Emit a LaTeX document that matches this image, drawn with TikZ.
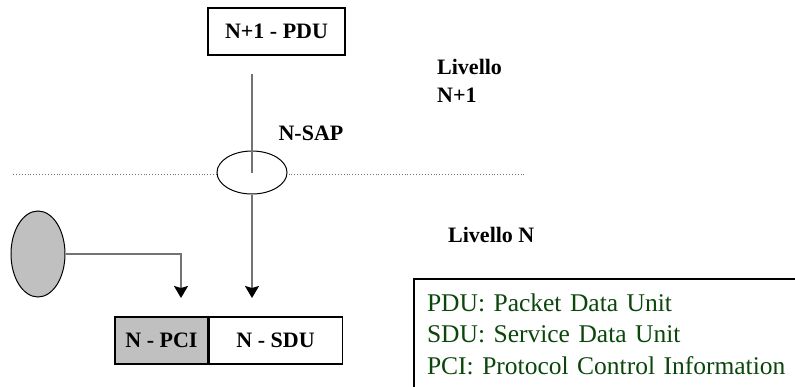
\documentclass[tikz,border=0pt]{standalone}
\usepackage{fontspec}
\setmainfont{Liberation Serif}
\usetikzlibrary{arrows.meta,positioning,shapes.geometric}
\definecolor{legendgreen}{RGB}{11,70,11}
\definecolor{wiregray}{RGB}{115,115,115}
\definecolor{pcigray}{RGB}{192,192,192}
\tikzset{
  unitbox/.style={draw=black,line width=1.1pt,minimum height=47pt,inner sep=0pt,
    font=\bfseries\fontsize{22}{26}\selectfont},
  layerlabel/.style={inner sep=0pt,font=\bfseries\fontsize{22}{28}\selectfont},
  wire/.style={draw=wiregray,line width=1.6pt},
  flow/.style={wire,-{Stealth[length=12pt,width=14pt,inset=2pt,color=black]}}
}

\begin{document}
\begin{tikzpicture}[x=1pt,y=-1pt]
\useasboundingbox (0,0) rectangle (795,386);
% layer boundary
\draw[wiregray,line width=0.9pt,dotted] (13,174) -- (526,174);
%
\node (pdu) [unitbox,minimum width=137pt] at (276.5,31.5) {N+1 - PDU};
\node (sap) [ellipse,draw=black,line width=1pt,fill=white,minimum width=70pt,minimum height=43pt,inner sep=0pt] at (252,172.5) {};
\node (src) [ellipse,draw=black,line width=1pt,fill=pcigray,minimum width=54pt,minimum height=86pt,inner sep=0pt] at (38,254) {};
\node (pci) [unitbox,fill=pcigray,minimum width=93pt] at (161.5,340.5) {N - PCI};
\node (sdu) [unitbox,minimum width=133pt,right=0pt of pci] {N - SDU};
%
\node (nsap) [layerlabel] at (311,133) {N-SAP};
\node (upper) [layerlabel,align=left,anchor=north west] at (437,59) {Livello\\N+1};
\node (lower) [layerlabel,anchor=west] at (448,235) {Livello N};
%
\node (legend) [draw=black,line width=2pt,anchor=north west,align=left,text width=380pt,
  inner xsep=13pt,minimum height=110pt,text=legendgreen,font=\fontsize{25.5}{31.5}\selectfont]
  at (413,278) {PDU: Packet Data Unit\\SDU: Service Data Unit\\PCI: Protocol Control Information};
%
\coordinate (pdutail) at (252,74);
\coordinate (sdutip) at (252,298);
\coordinate (pcitip) at (181,298);
\path[wire] (pdutail) -- (sap.center);
\path[flow] (sap.south) -- (sdutip);
\path[flow] (src.east) -| (pcitip);
\end{tikzpicture}
\end{document}
